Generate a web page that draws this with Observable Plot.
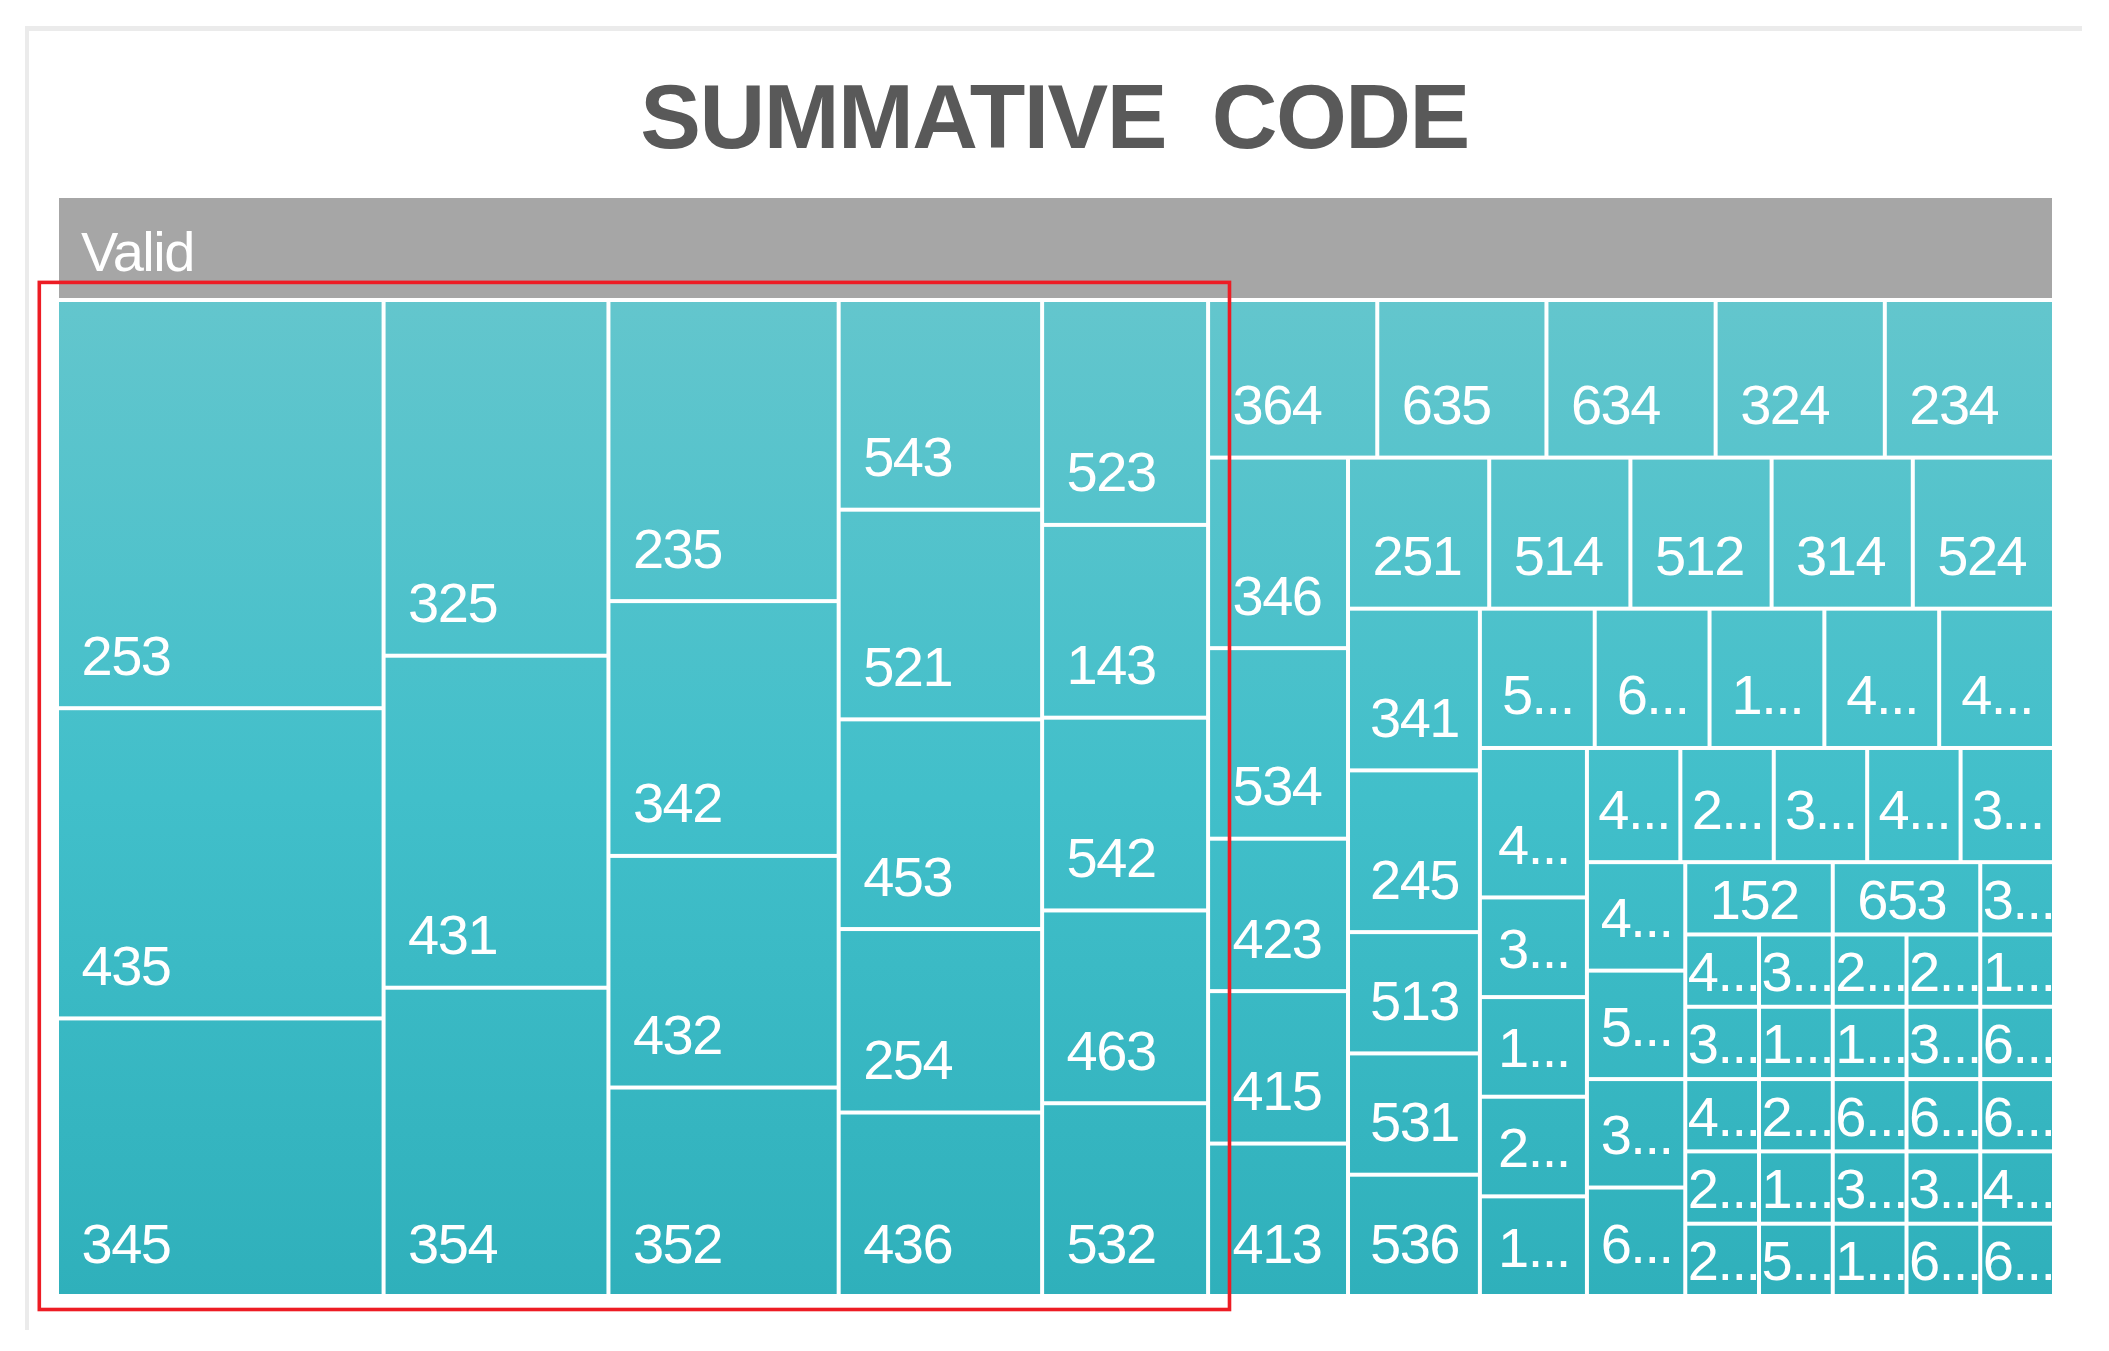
<!DOCTYPE html>
<html>
<head>
<meta charset="utf-8">
<script src="https://cdn.jsdelivr.net/npm/d3@7"></script>
<script src="https://cdn.jsdelivr.net/npm/@observablehq/plot@0.6"></script>
<style>
  html, body { margin: 0; padding: 0; background: #ffffff; }
  #page { position: relative; width: 2109px; height: 1351px; overflow: hidden; font-family: "Liberation Sans", Arial, sans-serif; }
  #panel { position: absolute; left: 25px; top: 26px; width: 2057px; height: 1304px; border-top: 5px solid #ebebeb; border-left: 4px solid #ebebeb; box-sizing: border-box; }
  #title { position: absolute; left: 0; top: 71px; width: 2109px; text-align: center; font-size: 91px; line-height: 91px; font-weight: bold; color: #595959; letter-spacing: -1.5px; word-spacing: 22px; white-space: nowrap; }
  #chart { position: absolute; left: 0; top: 180px; }
  #chart g[aria-label="text"] text { letter-spacing: -1.5px; }
</style>
</head>
<body>
<div id="page">
  <div id="panel"></div>
  <div id="title"></div>
  <div id="chart"></div>
</div>
<script>
// ---- data ----
const chartTitle = "SUMMATIVE CODE";
const groupName = "Valid";

// codes in layout order (largest first), as they are labelled in the picture
const codes = [
  "253","435","345",
  "325","431","354",
  "235","342","432","352",
  "543","521","453","254","436",
  "523","143","542","463","532",
  "364","635","634","324","234",
  "346","534","423","415","413",
  "251","514","512","314","524",
  "341","245","513","531","536",
  "5...","6...","1...","4...","4...",
  "4...","3...","1...","2...","1...",
  "4...","2...","3...","4...","3...",
  "4...","5...","3...","6...",
  "152","653","3...",
  "4...","3...","4...","2...","2...",
  "3...","2...","2...","1...",
  "1...","2...","1...","5...",
  "1...","3...","6...",
  "6...","3...","1...",
  "6...","6...",
  "3...","6...",
  "4...",
  "6..."
];

// frequency of each code
const counts = [
  25,19,17,
  15,14,13,
  13,11,10,9,
  8,8,8,7,7,
  7,6,6,6,6,
  5,5,5,5,5,
  5,5,4,4,4,
  4,4,4,4,4,
  4,4,3,3,3,
  3,3,3,3,3,
  3,2,2,2,2,
  2,2,2,2,2,
  2,2,2,2,
  2,2,1,
  1,1,1,1,1,
  1,1,1,1,
  1,1,1,1,
  1,1,1,
  1,1,1,
  1,1,
  1,1,
  1,
  1
];

// number of cells in each successive strip of the squarified layout
const stripSizes = [3,3,4,5,5,5,5,5,5,5,5,5,4,3,5,4,4,3,3,2,2,1,1];
// the first strips that are framed by the red highlight box
const highlightStrips = 5;

// ---- layout ----
const W = 1997, H = 1100, headerH = 104;

const leafData = codes.map((code, i) => ({code, value: counts[i]}));

function stripTile(parent, x0, y0, x1, y1) {
  const nodes = parent.children;
  if (parent.depth === 0) { d3.treemapSlice(parent, x0, y0, x1, y1); return; }
  let i = 0;
  for (const n of stripSizes) {
    const row = nodes.slice(i, i + n);
    const rest = nodes.slice(i);
    i += n;
    if (!row.length) break;
    const rowSum = d3.sum(row, d => d.value);
    const restSum = d3.sum(rest, d => d.value);
    const frac = rowSum / restSum;
    const strip = {children: row, value: rowSum};
    const dx = x1 - x0, dy = y1 - y0;
    if (dx < dy) {
      const yy = i >= nodes.length ? y1 : y0 + dy * frac;
      d3.treemapDice(strip, x0, y0, x1, yy);
      y0 = yy;
    } else {
      const xx = i >= nodes.length ? x1 : x0 + dx * frac;
      d3.treemapSlice(strip, x0, y0, xx, y1);
      x0 = xx;
    }
  }
}

const root = d3.hierarchy({name: "root", children: [{name: groupName, children: leafData}]})
  .sum(d => d.value || 0);
d3.treemap()
  .size([W, H])
  .paddingTop(d => d.depth === 1 ? headerH : 0)
  .tile(stripTile)(root);

const group = root.children[0];
const groupRow = [{name: group.data.name, x0: group.x0, x1: group.x1, y0: group.y0, y1: group.y0 + headerH}];

const canvas = document.createElement("canvas");
const ctx = canvas.getContext("2d");
ctx.font = "56px 'Liberation Sans', Arial";

const cells = group.children.map((n, i) => {
  const w = n.x1 - n.x0, h = n.y1 - n.y0;
  const adv = ctx.measureText(n.data.code).width - 1.5 * n.data.code.length;
  const padX = 2 + Math.max(0, Math.min(22, (w - 4 - adv) / 2));
  const padY = 2 + Math.max(0, Math.min(32, (h - 44) / 2));
  return {code: n.data.code, count: n.value, x0: n.x0, x1: n.x1, y0: n.y0, y1: n.y1, lx: n.x0 + padX, ly: n.y1 - padY, i};
});

const nHighlight = d3.sum(stripSizes.slice(0, highlightStrips));
const hl = cells.slice(0, nHighlight);
const box = [{
  x0: d3.min(hl, d => d.x0), x1: d3.max(hl, d => d.x1),
  y0: d3.min(hl, d => d.y0), y1: d3.max(hl, d => d.y1)
}];

document.getElementById("title").textContent = chartTitle;

const chart = Plot.plot({
  width: 2109,
  height: 1150,
  marginLeft: 57,
  marginRight: 55,
  marginTop: 16,
  marginBottom: 34,
  x: {domain: [0, W], range: [57, 2054], axis: null},
  y: {domain: [0, H], range: [16, 1116], axis: null},
  style: {fontFamily: "'Liberation Sans', Arial, sans-serif", background: "transparent", overflow: "visible"},
  marks: [
    Plot.rect(groupRow, {x1: "x0", x2: "x1", y1: "y0", y2: "y1", fill: "#a6a6a6", inset: 2}),
    Plot.text(groupRow, {x: "x0", y: "y1", text: "name", dx: 23.5, dy: -29.6, textAnchor: "start", lineAnchor: "bottom", fontSize: 56, fill: "#ffffff"}),
    Plot.rect(cells, {x1: "x0", x2: "x1", y1: "y0", y2: "y1", fill: "url(#tmGrad)", inset: 2}),
    Plot.text(cells, {x: "lx", y: "ly", text: "code", textAnchor: "start", lineAnchor: "bottom", fontSize: 56, fill: "#ffffff"}),
    Plot.rect(box, {x1: d => d.x0 - 17.7, x2: d => d.x1 + 21.4, y1: d => d.y0 - 17.6, y2: d => d.y1 + 13.5, fill: "none", stroke: "#ed1c24", strokeWidth: 3.6})
  ]
});

// vertical gradient shared by all cells
const ys = chart.scale("y");
const NS = "http://www.w3.org/2000/svg";
const defs = document.createElementNS(NS, "defs");
const grad = document.createElementNS(NS, "linearGradient");
grad.setAttribute("id", "tmGrad");
grad.setAttribute("gradientUnits", "userSpaceOnUse");
grad.setAttribute("x1", 0); grad.setAttribute("x2", 0);
grad.setAttribute("y1", ys.apply(headerH)); grad.setAttribute("y2", ys.apply(H));
[[0, "#63c6cd"], [0.5, "#41bfca"], [1, "#2fb0bb"]].forEach(([o, c]) => {
  const s = document.createElementNS(NS, "stop");
  s.setAttribute("offset", o); s.setAttribute("stop-color", c);
  grad.appendChild(s);
});
defs.appendChild(grad);
chart.insertBefore(defs, chart.firstChild);

document.getElementById("chart").appendChild(chart);
</script>
</body>
</html>
